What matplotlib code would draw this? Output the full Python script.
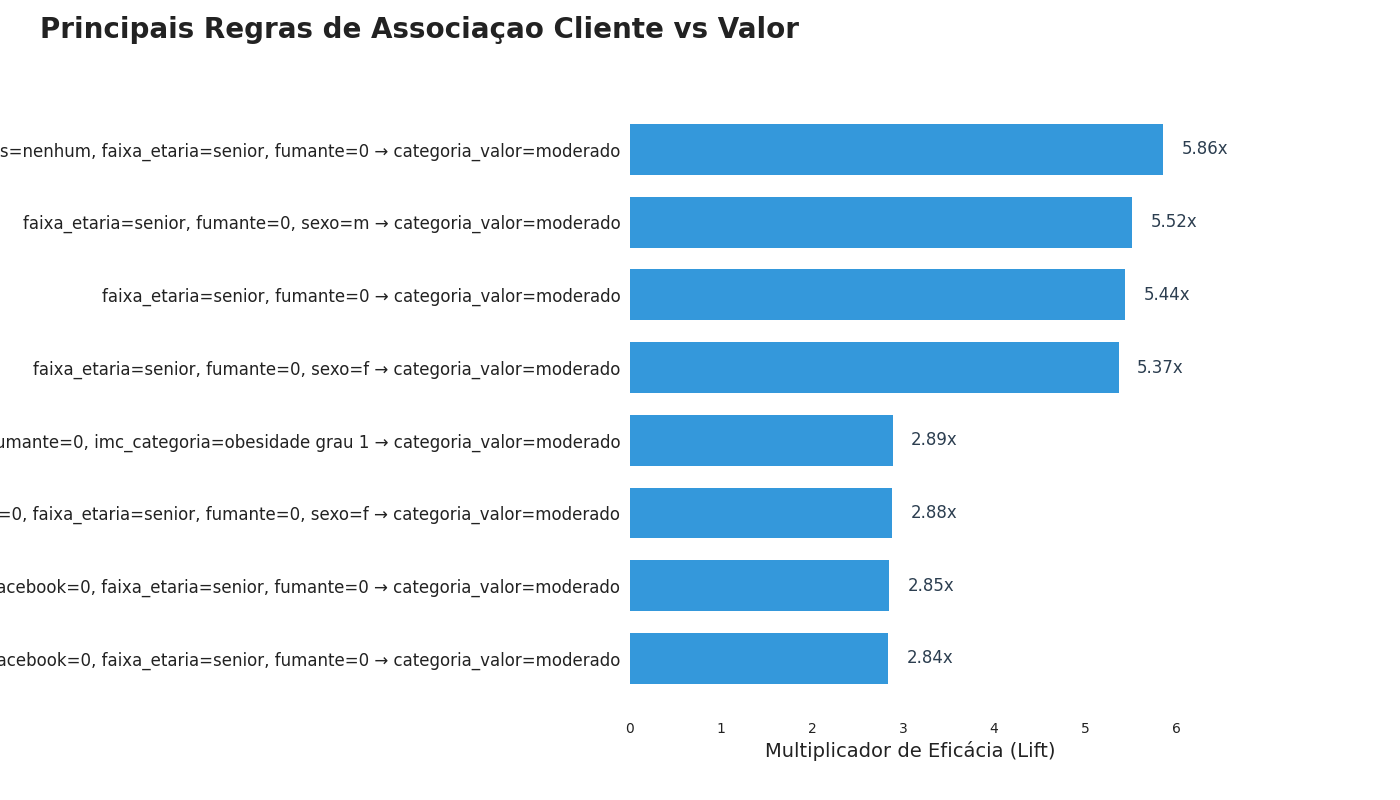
import matplotlib
matplotlib.use("Agg")
import matplotlib.pyplot as plt

rules = [
    "doencas_cronicas=nenhum, faixa_etaria=senior, fumante=0 → categoria_valor=moderado",
    "faixa_etaria=senior, fumante=0, sexo=m → categoria_valor=moderado",
    "faixa_etaria=senior, fumante=0 → categoria_valor=moderado",
    "faixa_etaria=senior, fumante=0, sexo=f → categoria_valor=moderado",
    "faixa_etaria=senior, fumante=0, imc_categoria=obesidade grau 1 → categoria_valor=moderado",
    "usa_facebook=0, faixa_etaria=senior, fumante=0, sexo=f → categoria_valor=moderado",
    "sexo=f, usa_facebook=0, faixa_etaria=senior, fumante=0 → categoria_valor=moderado",
    "sexo=m, usa_facebook=0, faixa_etaria=senior, fumante=0 → categoria_valor=moderado",
]
lift = [5.86, 5.52, 5.44, 5.37, 2.89, 2.88, 2.85, 2.84]
xticks = [0, 1, 2, 3, 4, 5, 6]

plt.rcParams['font.family'] = ['DejaVu Sans']
fig = plt.figure(figsize=(14, 8), dpi=100)
ax = fig.add_axes([0.45, 0.1102, 0.4, 0.7698])

ypos = list(range(len(rules)))
ax.barh(ypos, lift, height=0.7, color='#3498db')
ax.set_yticks(ypos)
ax.set_yticklabels(rules, fontsize=12, color='#222222')
ax.invert_yaxis()
ax.set_xlim(0, max(lift) * 1.05)
ax.set_xticks(xticks)
ax.tick_params(axis='x', length=0, labelsize=10, colors='#222222', pad=7)
ax.tick_params(axis='y', length=0, pad=7)
for s in ax.spines.values():
    s.set_visible(False)
ax.set_xlabel('Multiplicador de Eficácia (Lift)', fontsize=14, color='#222222', labelpad=4)

for y, v in zip(ypos, lift):
    ax.text(v + 0.2, y, f"{v:.2f}x", va='center', ha='left', fontsize=12, color='#2c3e50')

fig.text(0.0286, 0.963, 'Principais Regras de Associaçao Cliente vs Valor', fontsize=20,
         fontweight='bold', color='#222222', ha='left', va='center')

fig.savefig('out.png', dpi=100)
